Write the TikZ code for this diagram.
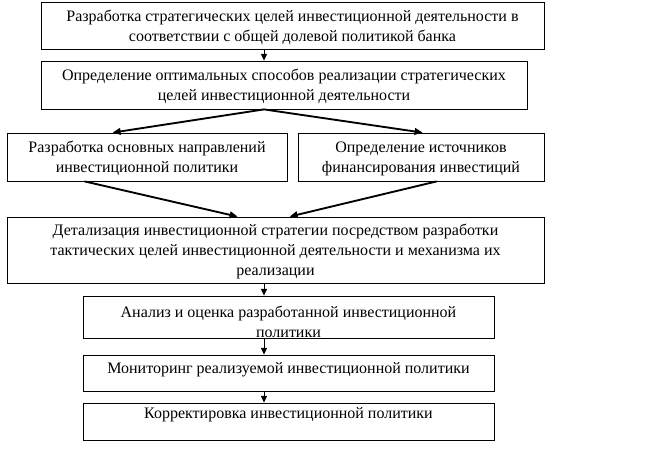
\documentclass[tikz,border=0pt]{standalone}
\usepackage{fontspec}
\setmainfont{Liberation Serif}
\usetikzlibrary{positioning, arrows.meta, calc}

\begin{document}
\begin{tikzpicture}[
        x=0.75pt, y=-0.75pt,
        stage/.style={draw, line width=0.6pt, align=center, inner sep=2pt,
                      text depth=-1.5pt, font=\fontsize{12}{15}\selectfont},
        arr/.style={-{Triangle[length=5pt, width=4.5pt]}, line width=0.7pt},
        fork/.style={-{Triangle[length=6pt, width=5pt]}, line width=1.4pt},
        >=Stealth
    ]
    \useasboundingbox (0,0) rectangle (646,457);
    % Strategy stages
    \node[stage, minimum width=377.25pt, minimum height=35.25pt] (B1) at (292.5,25.5)
        {Разработка стратегических целей инвестиционной деятельности в\\
         соответствии с общей долевой политикой банка};
    \node[stage, minimum width=364.5pt, minimum height=36pt] (B2) at (284,85)
        {Определение оптимальных способов реализации стратегических\\
         целей инвестиционной деятельности};
    % Two parallel stages
    \node[stage, minimum width=210pt, minimum height=36pt] (B3) at (147,157)
        {Разработка основных направлений\\ инвестиционной политики};
    \node[stage, minimum width=184.5pt, minimum height=36pt] (B4) at (421,157)
        {Определение источников\\ финансирования инвестиций};
    % Tactical stages
    \node[stage, minimum width=402.75pt, minimum height=49.5pt] (B5) at (275.5,250)
        {Детализация инвестиционной стратегии посредством разработки\\
         тактических целей инвестиционной деятельности и механизма их\\
         реализации};
    \node[stage, minimum width=308.25pt, minimum height=31.5pt,
          text height=30pt, text depth=0pt, inner ysep=0pt] (B6) at (288.5,317)
        {Анализ и оценка разработанной инвестиционной\\ политики};
    \node[stage, minimum width=308.25pt, minimum height=27pt, text depth=7.5pt] (B7) at (288.5,373)
        {Мониторинг реализуемой инвестиционной политики};
    \node[stage, minimum width=308.25pt, minimum height=27.75pt, text depth=12.5pt] (B8) at (288.5,421.5)
        {Корректировка инвестиционной политики};
    % Arrows
    \coordinate (spine) at (264,0);
    \draw[arr] (spine |- B1.south) -- (spine |- B2.north);
    \draw[fork] (spine |- B2.south) -- ($(B3.north west)+(106,0)$);
    \draw[fork] (spine |- B2.south) -- ($(B4.north west)+(125,0)$);
    \draw[fork] ($(B3.south west)+(78,0)$) -- ($(B5.north west)+(231,0)$);
    \draw[fork] ($(B4.south west)+(139,0)$) -- ($(B5.north west)+(283,0)$);
    \foreach \a/\b in {B5/B6, B6/B7, B7/B8}
        \draw[arr] (spine |- \a.south) -- (spine |- \b.north);
\end{tikzpicture}
\end{document}
